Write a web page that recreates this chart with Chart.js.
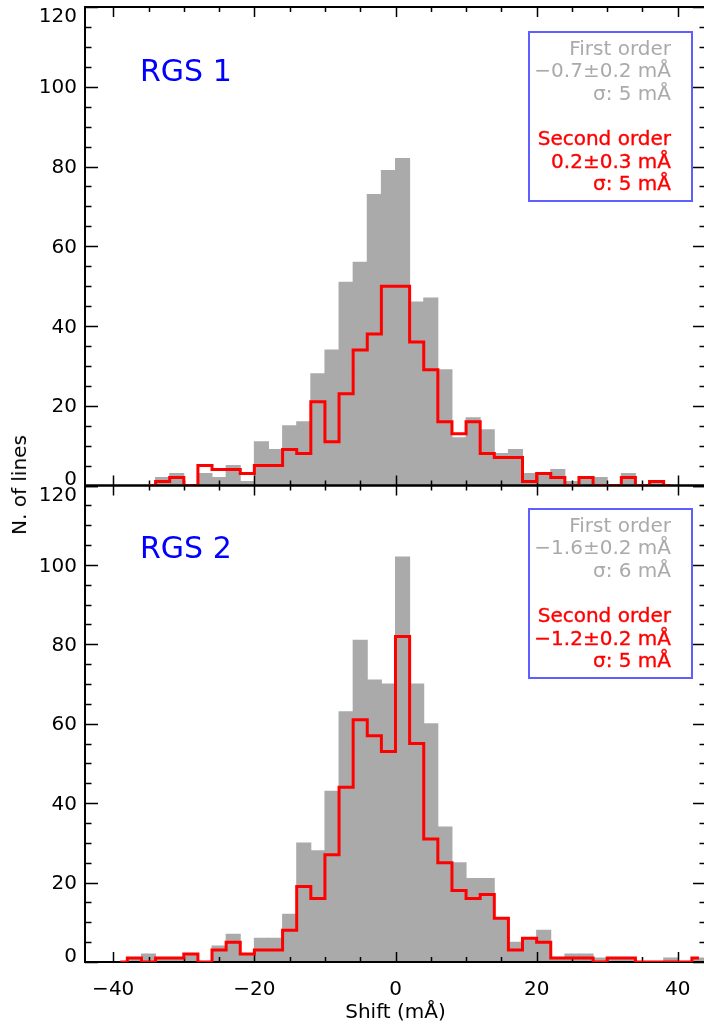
<!DOCTYPE html>
<html>
<head>
<meta charset="utf-8">
<script src="https://cdn.jsdelivr.net/npm/chart.js@4.4.1/dist/chart.umd.min.js"></script>
<style>
  html, body { margin:0; padding:0; background:#fff; width:704px; height:1025px; overflow:hidden; }
  #wrap { position:relative; width:704px; height:1025px; overflow:hidden; font-family:'DejaVu Sans', sans-serif; }
  canvas { position:absolute; left:0; }
  #c1 { top:0; }
  #c2 { top:470px; }
  .box { position:absolute; box-sizing:border-box; border:2px solid #5f5fff; text-align:right;
         font-size:20px; line-height:22.6px; padding:3.8px 20px 0 0; background:transparent; }
  .box div { height:22.6px; white-space:nowrap; }
  .g { color:#aaaaaa; }
  .r { color:#ff0000; -webkit-text-stroke:0.35px #ff0000; }
  .rgs { position:absolute; color:#0000ff; font-size:30px; line-height:30px; white-space:nowrap; }
  .ytitle { position:absolute; left:19px; top:485px; font-size:20px; line-height:20px; white-space:nowrap;
            transform:translate(-50%,-50%) rotate(-90deg); color:#000; }
  .xtitle { position:absolute; left:395.5px; top:1001px; font-size:20px; line-height:20px; white-space:nowrap;
            transform:translateX(-50%); color:#000; }
</style>
</head>
<body>
<div id="wrap">
  <canvas id="c1" width="720" height="500" style="width:720px;height:500px"></canvas>
  <canvas id="c2" width="720" height="555" style="width:720px;height:555px"></canvas>

  <div class="rgs" style="left:140px;top:56px">RGS 1</div>
  <div class="rgs" style="left:140px;top:533px">RGS 2</div>

  <div class="box" style="left:528px;top:31px;width:165px;height:171px">
    <div class="g">First order</div>
    <div class="g">&minus;0.7&plusmn;0.2 mÅ</div>
    <div class="g">σ: 5 mÅ</div>
    <div>&nbsp;</div>
    <div class="r">Second order</div>
    <div class="r">0.2&plusmn;0.3 mÅ</div>
    <div class="r">σ: 5 mÅ</div>
  </div>

  <div class="box" style="left:528px;top:508px;width:165px;height:171px">
    <div class="g">First order</div>
    <div class="g">&minus;1.6&plusmn;0.2 mÅ</div>
    <div class="g">σ: 6 mÅ</div>
    <div>&nbsp;</div>
    <div class="r">Second order</div>
    <div class="r">&minus;1.2&plusmn;0.2 mÅ</div>
    <div class="r">σ: 5 mÅ</div>
  </div>

  <div class="ytitle">N. of lines</div>
  <div class="xtitle">Shift (mÅ)</div>
</div>

<script>
// ---------------- DATA ----------------
// Histogram bin centres (mÅ), bins of width 2
const binCenters = [-43,-41,-39,-37,-35,-33,-31,-29,-27,-25,-23,-21,-19,-17,-15,-13,-11,-9,-7,-5,-3,-1,
                    1,3,5,7,9,11,13,15,17,19,21,23,25,27,29,31,33,35,37,39,41,43];

// RGS 1 first order (grey filled histogram)
const rgs1First = [0,0,0,0,0,2,3,0,3,2,5,1,11,9,15,16,28,34,51,56,73,79,
                   82,46,47,29,12,17,14,8,9,3,3,4,1,2,2,0,3,0,1,0,0,0];
// RGS 1 second order (red step line)
const rgs1SecondCenters = [-35,-33,-31,-29,-27,-25,-23,-21,-19,-17,-15,-13,-11,-9,-7,-5,-3,-1,
                           1,3,5,7,9,11,13,15,17,19,21,23,25,27,29,31,33,35,37,39];
const rgs1Second = [0,1,2,0,5,4,4,3,5,5,9,8,21,11,23,34,38,50,
                    50,36,29,16,13,16,8,7,7,1,3,2,0,2,0,0,2,0,1,0];

// RGS 2 first order (grey filled histogram)
const rgs2First = [0,0,0,1,2,1,1,2,0,4,7,2,6,6,12,30,28,43,63,81,71,70,
                   102,70,60,34,25,21,21,11,5,6,8,1,2,2,1,1,1,0,0,1,0,1];
// RGS 2 second order (red step line)
const rgs2SecondCenters = [-39,-37,-35,-33,-31,-29,-27,-25,-23,-21,-19,-17,-15,-13,-11,-9,-7,-5,-3,-1,
                           1,3,5,7,9,11,13,15,17,19,21,23,25,27,29,31,33,35,37,39,41,43];
const rgs2Second = [0,1,0,1,1,2,0,3,5,2,3,3,8,19,16,27,44,61,57,53,
                    82,55,31,25,18,16,17,11,3,6,5,1,1,1,0,1,1,0,0,0,0,1];

// Axis ticks
const xMajorTicks = [-40,-20,0,20,40];
const xMinorStep = 5;
const yMajorStep = 20;
const yMinorStep = 5;
const X_MIN = -44, X_MAX = 44, Y_MIN = 0, Y_MAX = 120;

// ---------------- STYLE ----------------
const FONT = "'DejaVu Sans', sans-serif";
const GRAY = '#aaaaaa';
const RED = '#ff0000';

// frame + inward tick marks, drawn right after the grey bars (so red goes on top)
const framePlugin = {
  id: 'frameTicks',
  afterDatasetDraw(chart, args) {
    if (args.index !== 0) return;
    const { ctx, chartArea: a, scales: { x, y } } = chart;
    ctx.save();
    ctx.strokeStyle = '#000';
    ctx.lineWidth = 1.5;
    ctx.beginPath();
    for (let v = Math.ceil(x.min / xMinorStep) * xMinorStep; v <= x.max; v += xMinorStep) {
      const px = Math.round(x.getPixelForValue(v)) + 0.5;
      const L = xMajorTicks.includes(v) ? 10 : 5;
      ctx.moveTo(px, a.top); ctx.lineTo(px, a.top + L);
      ctx.moveTo(px, a.bottom); ctx.lineTo(px, a.bottom - L);
    }
    for (let v = y.min; v <= y.max; v += yMinorStep) {
      const py = Math.round(y.getPixelForValue(v)) + 0.5;
      const L = (v % yMajorStep === 0) ? 13 : 6.5;
      ctx.moveTo(a.left, py); ctx.lineTo(a.left + L, py);
      ctx.moveTo(a.right, py); ctx.lineTo(a.right - L, py);
    }
    ctx.stroke();
    ctx.lineWidth = 2;
    ctx.strokeRect(a.left, a.top, a.right - a.left, a.bottom - a.top);
    ctx.restore();
  }
};

// y tick labels, kept inside the panel's vertical extent
const yLabelPlugin = {
  id: 'yLabels',
  afterDraw(chart) {
    const { ctx, chartArea: a, scales: { y } } = chart;
    ctx.save();
    ctx.font = '20px ' + FONT;
    ctx.fillStyle = '#000';
    ctx.textAlign = 'right';
    ctx.textBaseline = 'middle';
    y.ticks.forEach(t => {
      let py = y.getPixelForValue(t.value);
      py = Math.min(Math.max(py, a.top + 8.5), a.bottom - 7);
      ctx.fillText(String(t.value), a.left - 8, py + 1.5);
    });
    ctx.restore();
  }
};

function buildPanel(id, firstVals, secCenters, secVals, pad, showX) {
  const grey = binCenters.map((c, i) => ({ x: c, y: firstVals[i] }));
  const red = secCenters.map((c, i) => ({ x: c, y: secVals[i] }));
  return new Chart(document.getElementById(id), {
    type: 'bar',
    data: {
      datasets: [
        { type: 'bar', data: grey, backgroundColor: GRAY, borderWidth: 0,
          barPercentage: 1, categoryPercentage: 1, inflateAmount: 0.5, order: 2 },
        { type: 'line', data: red, borderColor: RED, borderWidth: 3, stepped: 'middle',
          pointRadius: 0, fill: false, order: 1, borderJoinStyle: 'miter', borderCapStyle: 'butt' }
      ]
    },
    options: {
      responsive: false, animation: false, events: [],
      layout: { padding: pad },
      plugins: { legend: { display: false }, tooltip: { enabled: false } },
      scales: {
        x: {
          type: 'linear', min: X_MIN, max: X_MAX, offset: false,
          grid: { display: false, drawTicks: false }, border: { display: false },
          ticks: {
            display: showX, stepSize: 20, includeBounds: false, padding: 16, autoSkip: false, maxRotation: 0,
            font: { family: FONT, size: 20 }, color: '#000',
            callback: v => (xMajorTicks.includes(v) ? String(v).replace('-', '\u2212') : '')
          },
          afterFit: s => { s.height = showX ? 63 : 0; }
        },
        y: {
          type: 'linear', min: Y_MIN, max: Y_MAX,
          grid: { display: false, drawTicks: false }, border: { display: false },
          ticks: { display: false, stepSize: yMajorStep },
          afterFit: s => { s.width = 85; }
        }
      }
    },
    plugins: [framePlugin, yLabelPlugin]
  });
}

buildPanel('c1', rgs1First, rgs1SecondCenters, rgs1Second, { left: 0, top: 7, right: 14, bottom: 14.5 }, false);
buildPanel('c2', rgs2First, rgs2SecondCenters, rgs2Second, { left: 0, top: 15.5, right: 14, bottom: 0 }, true);
</script>
</body>
</html>
